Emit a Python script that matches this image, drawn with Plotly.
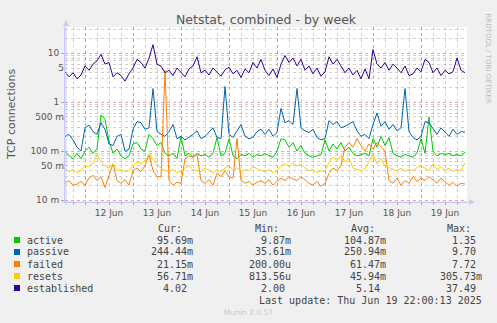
import plotly.graph_objects as go
import pandas as pd

# ---------------- data (2-hour samples, Jun 11 14:00 -> Jun 19 22:00) ----------------
start = pd.Timestamp("2025-06-11 14:00")
times = pd.date_range(start, periods=101, freq="2h")

active = [0.10, 0.08, 0.07, 0.09, 0.07, 0.10, 0.12, 0.09, 0.11, 0.55,
          0.45, 0.16, 0.09, 0.11, 0.08, 0.07, 0.08, 0.14, 0.15, 0.11,
          0.10, 0.22, 0.18, 0.13, 0.15, 0.09, 0.08, 0.09, 0.07, 0.20,
          0.08, 0.09, 0.075, 0.09, 0.08, 0.085, 0.075, 0.09, 0.19, 0.08,
          0.09, 0.18, 0.08, 0.07, 0.085, 0.08, 0.09, 0.075, 0.085, 0.08,
          0.09, 0.08, 0.075, 0.10, 0.18, 0.17, 0.12, 0.15, 0.10, 0.13,
          0.09, 0.08, 0.075, 0.08, 0.085, 0.17, 0.10, 0.14, 0.11, 0.15,
          0.10, 0.12, 0.09, 0.08, 0.085, 0.09, 0.08, 0.18, 0.12, 0.20,
          0.13, 0.19, 0.09, 0.08, 0.075, 0.085, 0.08, 0.075, 0.09, 0.18,
          0.09, 0.50, 0.10, 0.08, 0.09, 0.085, 0.09, 0.08, 0.085, 0.08,
          0.0957]

passive = [0.20, 0.22, 0.17, 0.12, 0.10, 0.30, 0.34, 0.25, 0.22, 0.38,
           0.28, 0.14, 0.13, 0.20, 0.22, 0.10, 0.11, 0.28, 0.40, 0.38,
           0.28, 0.30, 1.9, 0.25, 0.22, 0.20, 0.25, 0.35, 0.18, 0.20,
           0.17, 0.19, 0.22, 0.26, 0.18, 0.20, 0.24, 0.30, 0.19, 0.18,
           2.1, 0.22, 0.19, 0.25, 0.35, 0.20, 0.18, 0.19, 0.25, 0.28,
           0.22, 0.28, 0.20, 0.24, 0.75, 0.38, 0.42, 0.35, 1.9, 0.30,
           0.26, 0.24, 0.28, 0.19, 0.17, 0.18, 0.42, 0.35, 0.40, 0.30,
           0.32, 0.36, 0.40, 0.26, 0.20, 0.22, 0.18, 0.35, 0.60, 0.32,
           0.40, 0.28, 0.35, 0.26, 0.30, 1.9, 0.25, 0.19, 0.17, 0.20,
           0.40, 0.38, 0.28, 0.22, 0.30, 0.24, 0.20, 0.28, 0.22, 0.25,
           0.244]

failed = [0.022, 0.025, 0.020, 0.021, 0.024, 0.020, 0.028, 0.032, 0.025, 0.030,
          0.018, 0.030, 0.055, 0.025, 0.022, 0.026, 0.020, 0.040, 0.045, 0.038,
          0.050, 0.085, 0.040, 0.030, 0.030, 4.5, 0.025, 0.020, 0.023, 0.022,
          0.070, 0.080, 0.075, 0.085, 0.025, 0.022, 0.026, 0.020, 0.035, 0.030,
          0.040, 0.030, 0.028, 0.18, 0.025, 0.022, 0.024, 0.020, 0.023, 0.025,
          0.022, 0.026, 0.020, 0.024, 0.028, 0.025, 0.030, 0.027, 0.025, 0.030,
          0.026, 0.022, 0.020, 0.024, 0.019, 0.022, 0.035, 0.045, 0.040, 0.050,
          0.12, 0.15, 0.12, 0.18, 0.13, 0.10, 0.14, 0.11, 0.15, 0.12,
          0.10, 0.025, 0.022, 0.028, 0.020, 0.025, 0.022, 0.030, 0.024, 0.028,
          0.025, 0.030, 0.026, 0.022, 0.028, 0.024, 0.020, 0.023, 0.019, 0.022,
          0.0212]

resets = [0.045, 0.038, 0.042, 0.036, 0.040, 0.050, 0.048, 0.055, 0.085, 0.060,
          0.050, 0.045, 0.055, 0.040, 0.042, 0.038, 0.040, 0.050, 0.060, 0.055,
          0.065, 0.085, 0.070, 0.055, 0.045, 0.040, 0.038, 0.042, 0.036, 0.040,
          0.045, 0.050, 0.042, 0.040, 0.038, 0.045, 0.040, 0.036, 0.042, 0.038,
          0.045, 0.050, 0.040, 0.046, 0.038, 0.042, 0.040, 0.048, 0.044, 0.040,
          0.038, 0.042, 0.036, 0.040, 0.050, 0.055, 0.048, 0.058, 0.050, 0.055,
          0.045, 0.040, 0.042, 0.036, 0.040, 0.038, 0.060, 0.075, 0.065, 0.080,
          0.060, 0.070, 0.045, 0.042, 0.040, 0.044, 0.060, 0.085, 0.055, 0.070,
          0.050, 0.045, 0.042, 0.040, 0.045, 0.038, 0.042, 0.040, 0.046, 0.050,
          0.045, 0.040, 0.055, 0.042, 0.048, 0.040, 0.045, 0.038, 0.042, 0.040,
          0.0567]

established = [4.2, 3.3, 4.0, 3.0, 3.6, 5.5, 4.5, 6.0, 7.0, 9.5,
               6.0, 6.5, 3.3, 4.0, 3.5, 2.7, 3.8, 5.0, 7.5, 6.5,
               5.0, 8.0, 15.0, 6.0, 5.5, 4.0, 4.5, 3.5, 5.0, 4.0,
               3.3, 4.8, 5.5, 8.5, 4.0, 4.5, 3.6, 5.0, 4.2, 3.4,
               4.6, 5.2, 3.8, 4.5, 3.2, 4.8, 4.0, 6.5, 5.0, 7.5,
               4.5, 3.5, 4.8, 3.2, 6.0, 9.0, 6.5, 8.0, 5.5, 7.5,
               4.5, 5.5, 3.8, 5.0, 3.4, 4.2, 8.5, 6.0, 7.5, 5.5,
               4.0, 5.0, 3.6, 4.5, 3.0, 4.8, 3.0, 12.0, 6.0, 5.0,
               6.5, 4.5, 6.0, 5.0, 4.0, 5.5, 3.5, 3.8, 5.0, 4.2,
               7.5, 6.5, 4.0, 5.0, 3.5, 4.5, 3.8, 4.2, 8.0, 4.5,
               4.02]

series_names = ["active", "passive", "failed", "resets", "established"]
series_vals = [active, passive, failed, resets, established]
series_colors = ["#00CC00", "#0066B3", "#FF8000", "#FFCC00", "#330099"]

cur = ["95.69m", "244.44m", "21.15m", "56.71m", "4.02"]
mins = ["9.87m", "35.61m", "200.00u", "813.56u", "2.00"]
avgs = ["104.87m", "250.94m", "61.47m", "45.94m", "5.14"]
maxs = ["1.35", "9.70", "7.72", "305.73m", "37.49"]

day_labels = ["12 Jun", "13 Jun", "14 Jun", "15 Jun", "16 Jun", "17 Jun", "18 Jun", "19 Jun"]
y_major = [0.01, 0.1, 1, 10]
y_major_text = ["10 m", "100 m", "1", "10"]

# ---------------- geometry ----------------
W, H = 497, 323
L, R, T, B = 65, 467, 27, 202
def px(x):
    return (x - L) / (R - L)
def py(y):
    return (B - y) / (B - T)

x_range = [start, start + pd.Timedelta(hours=201)]
y_range = [-2.041, 1.538]

midnights = [pd.Timestamp(f"2025-06-{d:02d} 00:00") for d in range(12, 20)]
noons = [pd.Timestamp(f"2025-06-{d:02d} 12:00") for d in range(12, 20)]
six_h = list(pd.date_range("2025-06-11 18:00", "2025-06-19 18:00", freq="6h"))
six_text = [day_labels[noons.index(t)] if t in noons else "" for t in six_h]

y_minor = []
y_minor_text = []
for d in y_major:
    for k in range(2, 10):
        v = k * d
        if v < 34:
            y_minor.append(v)
            y_minor_text.append({0.05: "50 m", 0.5: "500 m", 5: "5"}.get(round(v, 6), ""))

fig = go.Figure()
for name, vals, col in zip(series_names, series_vals, series_colors):
    fig.add_trace(go.Scatter(x=times, y=vals, mode="lines", name=name,
                             line=dict(color=col, width=1), xaxis="x", yaxis="y"))

tickfont = dict(family="DejaVu Sans", size=9, color="#555555")
red_grid = "rgba(230,90,90,0.55)"
gray_grid = "rgba(150,150,150,0.45)"
axis_col = "#C8C8F4"

fig.update_layout(
    width=W, height=H,
    margin=dict(l=L, r=W - R, t=T, b=H - B, pad=0),
    paper_bgcolor="#F0F0F0", plot_bgcolor="#FFFFFF",
    showlegend=False,
    title=dict(text="Netstat, combined - by week", x=248.5 / W, y=1 - 20 / H,
               xanchor="center", yanchor="middle", xref="paper", yref="container",
               font=dict(family="DejaVu Sans", size=12.5, color="#555555")),
    xaxis=dict(type="date", range=x_range, tickmode="array", tickvals=midnights,
               ticktext=[""] * len(midnights), showgrid=True, gridcolor=red_grid,
               griddash="dot", gridwidth=1, ticks="outside", ticklen=2,
               tickcolor="rgba(230,90,90,0.8)", showline=True, linecolor=axis_col,
               zeroline=False, fixedrange=True, layer="below traces"),
    xaxis2=dict(type="date", range=x_range, overlaying="x", side="bottom",
                tickmode="array", tickvals=six_h, ticktext=six_text, tickfont=tickfont,
                showgrid=True, gridcolor=gray_grid, griddash="dot", gridwidth=1,
                ticks="outside", ticklen=2, tickcolor="#AAAAAA", showline=False,
                zeroline=False),
    yaxis=dict(type="log", range=y_range, tickmode="array", tickvals=y_major,
               ticktext=y_major_text, tickfont=tickfont, showgrid=True,
               gridcolor=red_grid, griddash="dot", gridwidth=1, ticks="outside",
               ticklen=3, tickcolor="#AAAAAA", showline=True, linecolor=axis_col,
               zeroline=False),
    yaxis2=dict(type="log", range=y_range, overlaying="y", side="left",
                tickmode="array", tickvals=y_minor, ticktext=y_minor_text,
                tickfont=tickfont, showgrid=True, gridcolor=gray_grid, griddash="dot",
                gridwidth=1, ticks="", showline=False, zeroline=False),
)

# anchor helper traces so overlay axes render
fig.add_trace(go.Scatter(x=[times[0]], y=[1], xaxis="x2", yaxis="y2", mode="markers",
                         marker=dict(opacity=0), hoverinfo="skip", showlegend=False))

ann = []
def txt(x, y, s, size=10, color="#444444", xanchor="left", family="DejaVu Sans Mono", angle=0):
    ann.append(dict(x=px(x), y=py(y), xref="paper", yref="paper", text=s, showarrow=False,
                    xanchor=xanchor, yanchor="middle", textangle=angle,
                    font=dict(family=family, size=size, color=color), borderpad=0))

# y-axis title
txt(11, 115, "TCP connections", size=11, color="#555555", xanchor="center",
    family="DejaVu Sans", angle=-90)
# rrdtool watermark
txt(487.5, 58, "RRDTOOL / TOBI OETIKER", size=7, color="#BBBBBB", xanchor="center",
    family="DejaVu Sans", angle=90)

# legend header
for lab, xc in zip(["Cur:", "Min:", "Avg:", "Max:"], [170, 266.5, 363, 458.5]):
    txt(xc, 228.3, lab, xanchor="center")

row_y = [240, 252, 264, 276, 288]
shapes = []
for i, (name, col) in enumerate(zip(series_names, series_colors)):
    y = row_y[i]
    shapes.append(dict(type="rect", xref="paper", yref="paper",
                       x0=px(14), x1=px(20), y0=py(y + 3), y1=py(y - 3),
                       fillcolor=col, line=dict(width=0)))
    txt(26, y, name)
    for vals, xr in zip([cur, mins, avgs, maxs], [194, 292, 387, 483]):
        s = vals[i]
        if s[-1].isdigit():
            s = s + "\u00a0"
        txt(xr, y, s, xanchor="right")

txt(483, 300, "Last update: Thu Jun 19 22:00:13 2025", xanchor="right")
txt(248, 312.5, "Munin 2.0.57", size=7.5, color="#C8C8C8", xanchor="center", family="DejaVu Sans")

# axis arrows
shapes.append(dict(type="line", xref="paper", yref="paper", x0=px(66), x1=px(66),
                   y0=py(205), y1=py(24), line=dict(color=axis_col, width=1)))
shapes.append(dict(type="path", xref="paper", yref="paper",
                   path=f"M {px(63)} {py(26)} L {px(69)} {py(26)} L {px(66)} {py(20)} Z",
                   fillcolor=axis_col, line=dict(width=0)))
shapes.append(dict(type="line", xref="paper", yref="paper", x0=px(62), x1=px(470),
                   y0=py(202), y1=py(202), line=dict(color=axis_col, width=1)))
shapes.append(dict(type="path", xref="paper", yref="paper",
                   path=f"M {px(469)} {py(199)} L {px(469)} {py(205)} L {px(475)} {py(202)} Z",
                   fillcolor=axis_col, line=dict(width=0)))

fig.update_layout(annotations=ann, shapes=shapes)
fig.write_html("out.html")
